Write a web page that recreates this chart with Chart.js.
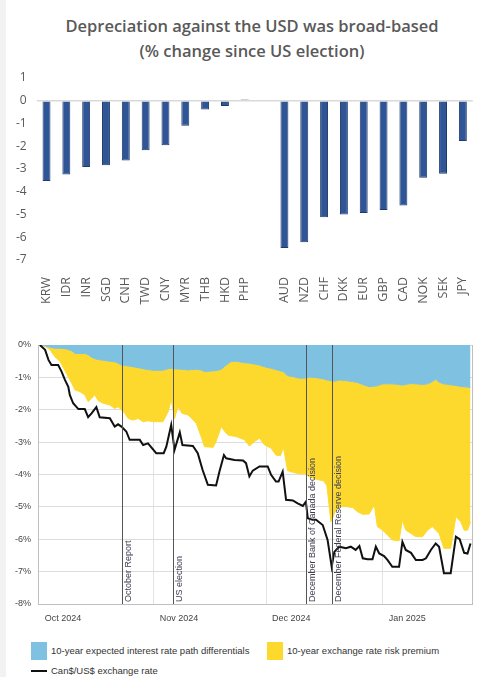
<!DOCTYPE html>
<html>
<head>
<meta charset="utf-8">
<script src="https://cdn.jsdelivr.net/npm/chart.js@4.4.1/dist/chart.umd.min.js"></script>
<style>
  html, body { margin: 0; padding: 0; background: #fff; width: 487px; height: 677px; overflow: hidden; }
  body { position: relative; }
  #strip { position: absolute; left: 0; top: 0; width: 6px; height: 677px; background: #f2f2f2; }
  #title { position: absolute; left: 17px; top: 13px; width: 470px; text-align: center;
           font: 600 16.5px 'Open Sans'; line-height: 25px; color: #595959; }
  #fx { position: absolute; left: 7px; top: 60px; }
  #cad { position: absolute; left: 7px; top: 330px; }
  .lg { position: absolute; font: 9.5px 'Liberation Sans'; color: #333; white-space: nowrap; line-height: 12px; }
  .sw { position: absolute; width: 16px; height: 18px; }
  .ln { position: absolute; width: 16px; height: 2px; background: #111; }
</style>
</head>
<body>
<div id="strip"></div>
<div id="title">Depreciation against the USD was broad-based<br>(% change since US election)</div>
<canvas id="fx" width="480" height="250"></canvas>
<canvas id="cad" width="480" height="300"></canvas>
<div id="legend"></div>
<script>
// ---- top panel: % change vs USD since US election ----
var currencies = ['KRW','IDR','INR','SGD','CNH','TWD','CNY','MYR','THB','HKD','PHP','',
                  'AUD','NZD','CHF','DKK','EUR','GBP','CAD','NOK','SEK','JPY'];
var fxChange   = [-3.53,-3.24,-2.91,-2.84,-2.63,-2.18,-1.96,-1.10,-0.38,-0.23,0.05,null,
                  -6.47,-6.22,-5.12,-5.00,-4.93,-4.80,-4.60,-3.38,-3.21,-1.77];

// ---- bottom panel: days since Oct 1 2024 ----
var flowDays = [0.5,2,3.2,4.5,5.9,7.6,9,9.9,11.2,12.5,13.4,14.3,15.2,16.1,17.4,19.2,20.5,21.4,22.3,23.2,
  24.1,25.4,26.8,28.1,29.4,30.8,33.4,34.8,35.6,36.5,37.4,38.5,40.1,41.0,42.3,43.6,44.5,46.8,47.6,49.0,
  49.9,50.8,51.6,53.0,55.2,56.5,57.9,59.2,60.5,62.3,63.6,64.8,65.6,66.7,68.3,70.1,71.5,72.5,74.5,76.4,
  77.2,78.3,79.3,80.5,82.3,84.1,85.4,86.8,88.5,89.9,90.7,92.1,93.4,94.7,96.5,97.4,98.3,99.7,101,102.8,
  104.1,105.4,106.3,107.2,108.5,110.3,111.7,113,113.9,114.8,115.6];
// lower edge of the blue band (interest rate path differentials)
var rateDiff = [0,-0.03,-0.07,-0.1,-0.1,-0.12,-0.18,-0.26,-0.26,-0.26,
  -0.3,-0.38,-0.42,-0.45,-0.47,-0.5,-0.52,-0.56,-0.62,-0.63,
  -0.65,-0.67,-0.7,-0.73,-0.76,-0.78,-0.78,-0.73,-0.72,-0.74,
  -0.74,-0.75,-0.77,-0.76,-0.75,-0.77,-0.82,-0.8,-0.79,-0.75,
  -0.66,-0.58,-0.51,-0.5,-0.55,-0.56,-0.59,-0.62,-0.67,-0.72,
  -0.76,-0.8,-0.83,-0.95,-0.98,-1.03,-1.02,-0.99,-1.01,-1.05,
  -1.08,-1.1,-1.12,-1.08,-1.1,-1.13,-1.16,-1.22,-1.29,-1.27,
  -1.26,-1.2,-1.2,-1.2,-1.22,-1.24,-1.22,-1.19,-1.2,-1.22,
  -1.2,-1.13,-1.06,-1.15,-1.2,-1.23,-1.25,-1.28,-1.29,-1.3,-1.31];
// lower edge of the yellow band (after risk premium)
var premiumEdge = [0,-0.05,-0.15,-0.36,-0.51,-0.88,-1.18,-1.39,-1.44,-1.54,
  -1.75,-1.65,-1.54,-1.72,-1.80,-1.85,-1.96,-1.91,-2.00,-2.11,
  -2.27,-2.32,-2.27,-2.37,-2.34,-2.37,-2.37,-2.06,-1.68,-2.27,
  -1.91,-2.11,-2.16,-2.26,-2.42,-2.83,-3.14,-3.16,-2.98,-2.52,
  -2.67,-2.78,-2.80,-2.83,-2.93,-3.12,-2.98,-2.88,-3.08,-3.19,
  -3.40,-3.42,-3.16,-3.88,-3.94,-3.98,-3.98,-4.07,-4.15,-4.20,
  -4.35,-5.46,-5.18,-4.99,-4.99,-5.02,-5.15,-5.23,-5.22,-4.94,
  -5.61,-5.72,-5.87,-6.02,-6.05,-5.41,-5.72,-5.82,-5.92,-5.92,
  -5.72,-5.61,-5.72,-5.82,-6.28,-6.28,-5.30,-5.46,-5.72,-5.72,-5.46];

var cadDays = [0.5,1.9,2.8,3.6,5.4,6.3,7.2,8.1,8.5,9.4,10.8,12.5,13.4,14.3,15.6,16.5,19.2,20.5,21.4,22.3,
  23.6,24.5,27.2,28.1,29.4,31.6,33.6,34.3,35.6,36.5,37.9,38.6,41.4,42.7,44,45.4,47.6,48.5,49.7,50.3,
  52.5,54.8,55.6,56.5,57.4,59.2,61.4,62.3,63.6,64.3,65.4,66.3,68.1,69.4,70.8,71.6,72.1,73.4,74.3,76.1,
  77.4,78.5,79.2,80.5,82.3,83.6,84.9,85.9,86.8,88.1,89.4,90.3,91.2,92.5,93.4,94.7,96.5,97.4,98.3,99.7,
  101,102.8,103.7,105,106.3,107.2,108.5,110.3,111.7,112.7,113.9,114.8,115.6];
var cadRate = [0,-0.15,-0.46,-0.62,-0.62,-0.82,-1.08,-1.29,-1.54,-1.8,
  -1.98,-1.98,-2.23,-2.11,-1.92,-2.23,-2.26,-2.52,-2.45,-2.52,
  -2.67,-2.93,-2.93,-3.09,-3.04,-3.34,-3.34,-3.14,-2.47,-3.24,
  -2.7,-3.09,-3.12,-3.34,-3.86,-4.32,-4.34,-3.91,-3.4,-3.5,
  -3.55,-3.57,-3.65,-4.06,-3.88,-3.75,-3.75,-4.01,-4.22,-4.22,
  -3.91,-4.78,-4.8,-4.89,-4.97,-4.84,-5.35,-5.4,-5.4,-5.56,
  -6.02,-6.85,-6.39,-6.23,-6.28,-6.23,-6.33,-6.21,-6.59,-6.62,
  -6.62,-6.23,-6.44,-6.52,-6.64,-6.85,-6.85,-6.08,-6.33,-6.42,
  -6.64,-6.64,-6.59,-6.33,-6.13,-6.23,-7.05,-7.05,-5.92,-6.0,
  -6.42,-6.44,-6.13];

var monthTicks  = [0, 31, 61, 92];
var monthLabels = ['Oct 2024', 'Nov 2024', 'Dec 2024', 'Jan 2025'];
var eventDays   = [22.4, 36, 71.5, 78.5];
var eventLabels = ['October Report', 'US election', 'December Bank of Canada decision', 'December Federal Reserve decision'];

var BLUE = '#7ec1e0', YELLOW = '#fdd92e';

new Chart(document.getElementById('fx'), {
  type: 'bar',
  data: {
    labels: currencies,
    datasets: [{
      data: fxChange,
      backgroundColor: '#2f5597', borderColor: '#1f3b6b', borderWidth: 1,
      barPercentage: 0.8, categoryPercentage: 0.5
    }]
  },
  options: {
    responsive: false, animation: false,
    layout: { padding: { top: 18, left: 7.6, right: 6, bottom: 0 } },
    plugins: { legend: { display: false }, tooltip: { enabled: false } },
    scales: {
      x: {
        grid: { display: false }, border: { display: false },
        ticks: { color: '#595959', font: { family: 'Open Sans', size: 12.5 },
                 minRotation: 90, maxRotation: 90, padding: 9, autoSkip: false },
        afterFit: function (s) { s.height = 50; }
      },
      y: {
        min: -7, max: 1, border: { display: false },
        grid: { drawTicks: false, lineWidth: 1.5,
                color: function (c) { return c.tick.value === 0 ? '#d9d9d9' : 'transparent'; } },
        ticks: { stepSize: 1, color: '#595959', font: { family: 'Open Sans', size: 12 }, padding: 10 },
        afterFit: function (s) { s.width = 22; }
      }
    }
  }
});

// vertical event markers with rotated captions
var eventMarkers = {
  id: 'eventMarkers',
  afterDatasetsDraw: function (chart) {
    var ctx = chart.ctx, area = chart.chartArea, x = chart.scales.x;
    ctx.save();
    eventDays.forEach(function (d, i) {
      var px = Math.round(x.getPixelForValue(d)) + 0.5;
      ctx.strokeStyle = '#555'; ctx.lineWidth = 1;
      ctx.beginPath(); ctx.moveTo(px, area.top); ctx.lineTo(px, area.bottom); ctx.stroke();
      ctx.save();
      ctx.translate(px + 2, area.bottom - 2);
      ctx.rotate(-Math.PI / 2);
      ctx.fillStyle = '#3d3d50';
      ctx.font = '9px "Liberation Sans"';
      ctx.textAlign = 'left'; ctx.textBaseline = 'top';
      ctx.fillText(eventLabels[i], 0, 0);
      ctx.restore();
    });
    ctx.restore();
  }
};

var axisFont = { family: 'Liberation Sans', size: 9 };
var cadChart = new Chart(document.getElementById('cad'), {
  type: 'line',
  data: {
    datasets: [
      { label: '10-year expected interest rate path differentials',
        data: flowDays.map(function (d, i) { return { x: d, y: rateDiff[i] }; }),
        borderColor: BLUE, backgroundColor: BLUE, borderWidth: 1, pointRadius: 0, fill: 'origin', order: 2 },
      { label: '10-year exchange rate risk premium',
        data: flowDays.map(function (d, i) { return { x: d, y: premiumEdge[i] }; }),
        borderColor: YELLOW, backgroundColor: YELLOW, borderWidth: 1, pointRadius: 0, fill: '-1', order: 2 },
      { label: 'Can$/US$ exchange rate',
        data: cadDays.map(function (d, i) { return { x: d, y: cadRate[i] }; }),
        borderColor: '#111', backgroundColor: '#111', borderWidth: 2, pointRadius: 0, fill: false, order: 0 }
    ]
  },
  options: {
    responsive: false, animation: false,
    layout: { padding: { top: 15, left: 7, right: 15, bottom: 0 } },
    plugins: { legend: { display: false }, tooltip: { enabled: false } },
    scales: {
      x: {
        type: 'linear', min: 0, max: 116,
        afterBuildTicks: function (s) { s.ticks = monthTicks.map(function (v) { return { value: v }; }); },
        grid: { color: '#e3e3e3', drawTicks: false }, border: { color: '#bfbfbf' },
        ticks: { color: '#444', font: axisFont, padding: 9, labelOffset: 25, maxRotation: 0, autoSkip: false,
                 callback: function (v) { return monthLabels[monthTicks.indexOf(v)]; } },
        afterFit: function (s) { s.height = 26; }
      },
      y: {
        min: -8, max: 0,
        grid: { color: '#dcdcdc', drawTicks: false }, border: { color: '#bfbfbf' },
        ticks: { stepSize: 1, color: '#444', font: axisFont, padding: 7,
                 callback: function (v) { return v + '%'; } },
        afterFit: function (s) { s.width = 24; }
      },
      yR: {
        position: 'right', min: -8, max: 0,
        ticks: { display: false }, grid: { display: false, drawTicks: false },
        border: { color: '#bfbfbf' },
        afterFit: function (s) { s.width = 0; }
      }
    }
  },
  plugins: [eventMarkers]
});

// legend built from the dataset labels
var lg = document.getElementById('legend');
var ds = cadChart.data.datasets;
var items = [
  { kind: 'sw', color: ds[0].backgroundColor, text: ds[0].label, x: 31, y: 651 },
  { kind: 'sw', color: ds[1].backgroundColor, text: ds[1].label, x: 267, y: 651 },
  { kind: 'ln', color: ds[2].borderColor,     text: ds[2].label, x: 31, y: 671 }
];
items.forEach(function (it) {
  var m = document.createElement('div');
  m.className = it.kind;
  m.style.background = it.color;
  m.style.left = it.x + 'px';
  m.style.top = (it.kind === 'sw' ? it.y - 9 : it.y - 1) + 'px';
  lg.appendChild(m);
  var t = document.createElement('div');
  t.className = 'lg';
  t.textContent = it.text;
  t.style.left = (it.x + 20) + 'px';
  t.style.top = (it.y - 6) + 'px';
  lg.appendChild(t);
});
</script>
</body>
</html>
